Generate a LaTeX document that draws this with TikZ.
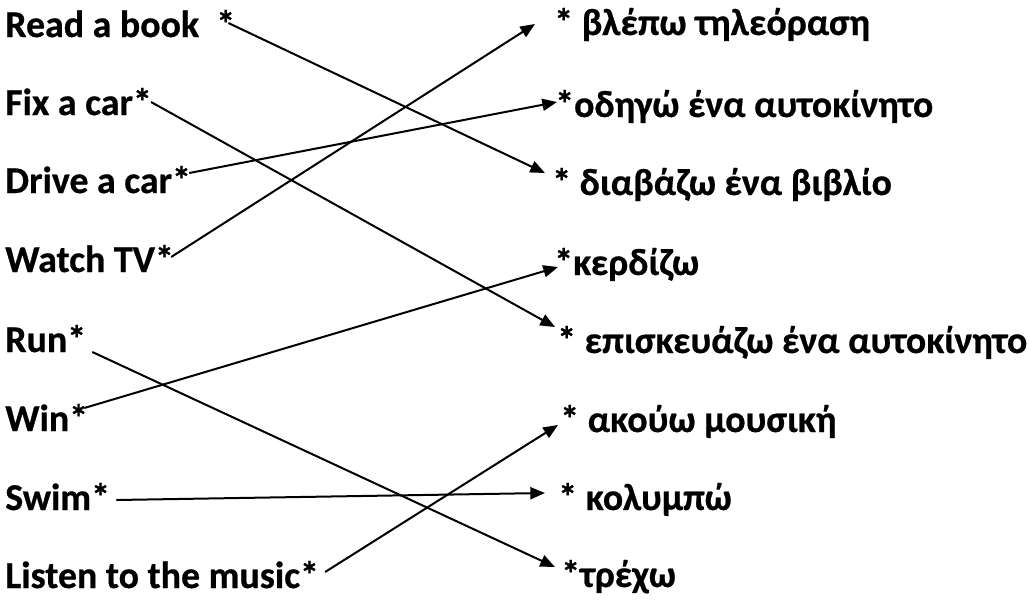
\documentclass[tikz,border=0pt]{standalone}
\usepackage{fontspec}
\setmainfont{Carlito}[BoldFeatures={FakeBold=0.6}]
\usetikzlibrary{arrows.meta}
\begin{document}
\begin{tikzpicture}[x=0.75pt,y=-0.75pt,
  word/.style={inner sep=0pt,anchor=base west,font=\fontsize{28.4}{32}\selectfont\bfseries},
  link/.style={draw,line width=1.5pt,-{Triangle[length=11pt,width=9pt]}}]
\useasboundingbox (0,0) rectangle (1029,601);

\node[word] (read) at (5,37) {Read a book~ *};
\node[word] (fix) at (5,115) {Fix a car*};
\node[word] (drive) at (5,193) {Drive a car*};
\node[word] (watch) at (5,272) {Watch TV*};
\node[word] (run) at (5,352) {Run*};
\node[word] (win) at (5,431) {Win*};
\node[word] (swim) at (5,510) {Swim*};
\node[word] (listen) at (5,588) {Listen to the music*};

\node[word] (blepo) at (554,35) {* βλέπω τηλεόραση};
\node[word] (odigo) at (555,117) {*οδηγώ ένα αυτοκίνητο};
\node[word] (diavazo) at (552,195) {* διαβάζω ένα βιβλίο};
\node[word] (kerdizo) at (554,275) {*κερδίζω};
\node[word] (episkevazo) at (557,353) {* επισκευάζω ένα αυτοκίνητο};
\node[word] (akouo) at (560,432) {* ακούω μουσική};
\node[word] (kolympo) at (558,510) {* κολυμπώ};
\node[word] (trexo) at (561,587) {*τρέχω};

\path[link] ([shift={(-7,-14)}]read.base east) -- ([shift={(-7,-22)}]diavazo.base west);
\path[link] ([shift={(-1,-13)}]fix.base east) -- ([shift={(-2,-26)}]episkevazo.base west);
\path[link] ([shift={(-2,-20)}]drive.base east) -- ([shift={(2,-15)}]odigo.base west);
\path[link] ([shift={(-3,-15)}]watch.base east) -- ([shift={(-19,-11)}]blepo.base west);
\path[link] ([shift={(6,0)}]run.base east) -- ([shift={(-6,-20)}]trexo.base west);
\path[link] ([shift={(-4,-23)}]win.base east) -- ([shift={(4,-8)}]kerdizo.base west);
\path[link] ([shift={(6,-10)}]swim.base east) -- ([shift={(-13,-17)}]kolympo.base west);
\path[link] ([shift={(6,-16)}]listen.base east) -- ([shift={(-2,-7)}]akouo.base west);
\end{tikzpicture}
\end{document}
